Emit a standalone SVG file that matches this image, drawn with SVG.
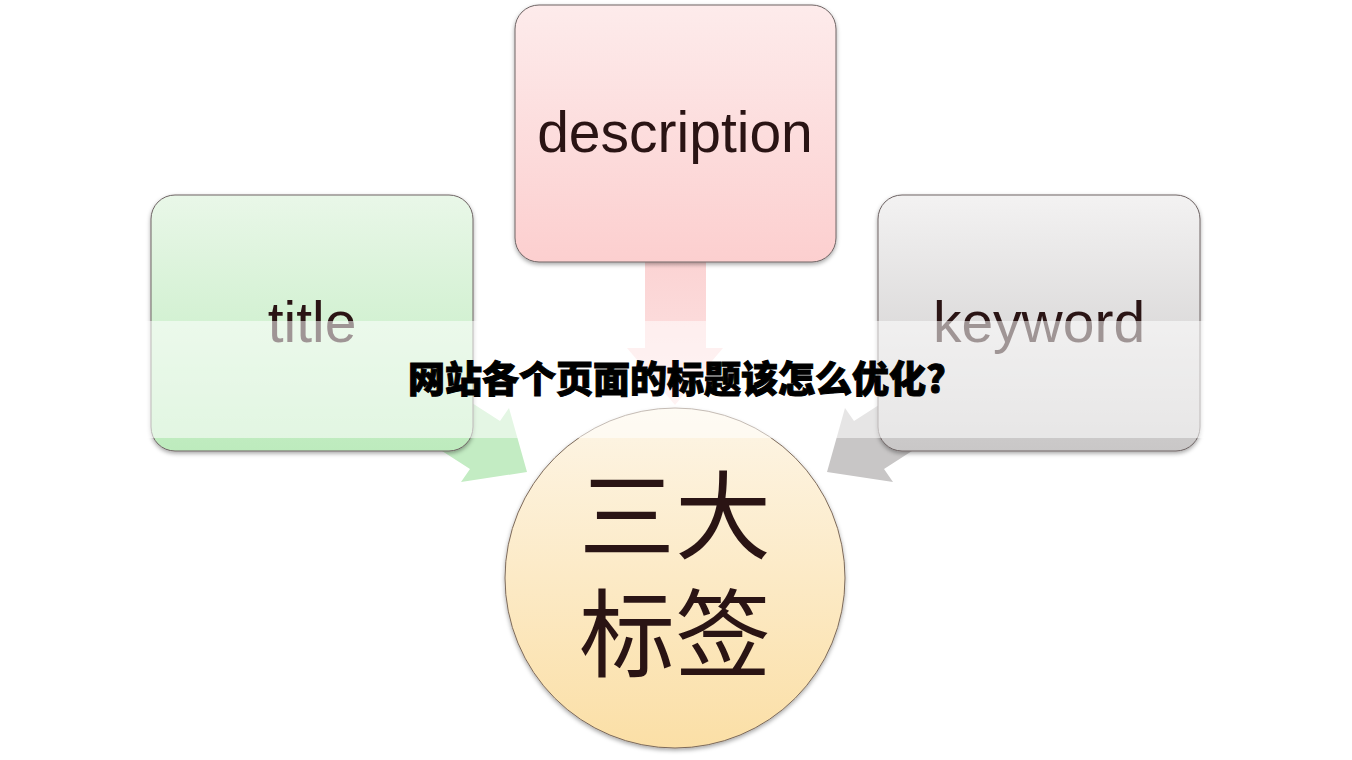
<svg xmlns="http://www.w3.org/2000/svg" width="1352" height="760" viewBox="0 0 1352 760">
<defs>
<linearGradient id="gGreen" x1="0" y1="0" x2="0" y2="1"><stop offset="0" stop-color="#e9f7e8"/><stop offset="1" stop-color="#bdebbd"/></linearGradient>
<linearGradient id="gPink" x1="0" y1="0" x2="0" y2="1"><stop offset="0" stop-color="#fdebeb"/><stop offset="1" stop-color="#fccfcf"/></linearGradient>
<linearGradient id="gGray" x1="0" y1="0" x2="0" y2="1"><stop offset="0" stop-color="#f3f2f2"/><stop offset="1" stop-color="#c9c7c7"/></linearGradient>
<linearGradient id="gCircle" x1="0" y1="0" x2="0" y2="1"><stop offset="0" stop-color="#fdf5e6"/><stop offset="1" stop-color="#fbdfa6"/></linearGradient>
<linearGradient id="gPinkArrow" x1="0" y1="0" x2="0" y2="1"><stop offset="0" stop-color="#fbd2d2"/><stop offset="1" stop-color="#fde4e4"/></linearGradient>
<filter id="sh" x="-10%" y="-10%" width="120%" height="125%"><feDropShadow dx="0" dy="2" stdDeviation="2" flood-color="#000" flood-opacity="0.35"/></filter>
</defs>
<style>
.box{stroke:#6e6464;stroke-width:1}
.lbl{font-family:"Liberation Sans",Arial,sans-serif;font-size:57px;fill:#2a1414;text-anchor:middle}
.big{font-family:"Liberation Sans","Noto Sans CJK SC",sans-serif;font-size:96px;fill:#2a1414;text-anchor:middle}
.head{font-family:"Noto Sans CJK SC",sans-serif;font-size:37px;font-weight:900;fill:#000;stroke:#000;stroke-width:1;text-anchor:middle}
</style>
<rect width="1352" height="760" fill="#ffffff"/>
<g id="connectors">
<polygon points="645,250 706,250 706,348 723,348 675,405 627,348 645,348" fill="url(#gPinkArrow)"/>
<polygon points="386,415 416,367 500,421 509,408 527,472 461,482 470,469" fill="#c3ecc3"/>
<polygon points="968,415 938,367 854,421 845,408 827,472 893,482 884,469" fill="#c8c6c6"/>
</g>
<g id="node-description">
<rect x="515" y="5" width="321" height="257" rx="24" fill="url(#gPink)" class="box" filter="url(#sh)"/>
<text x="675" y="152" class="lbl">description</text>
</g>
<g id="node-title">
<rect x="151" y="195" width="322" height="256" rx="24" fill="url(#gGreen)" class="box" filter="url(#sh)"/>
<text x="312" y="342" class="lbl">title</text>
</g>
<g id="node-keyword">
<rect x="878" y="195" width="322" height="256" rx="24" fill="url(#gGray)" class="box" filter="url(#sh)"/>
<text x="1039" y="342" class="lbl">keyword</text>
</g>
<g id="node-center">
<circle cx="675" cy="578" r="170" fill="url(#gCircle)" stroke="#7d6a5a" stroke-width="1" filter="url(#sh)"/>
<text class="big"><tspan x="675" y="551">三大</tspan><tspan x="675" y="669">标签</tspan></text>
</g>
<rect x="0" y="321" width="1352" height="117" fill="#ffffff" opacity="0.55"/>
<text x="677" y="393" class="head">网站各个页面的标题该怎么优化?</text>
</svg>
